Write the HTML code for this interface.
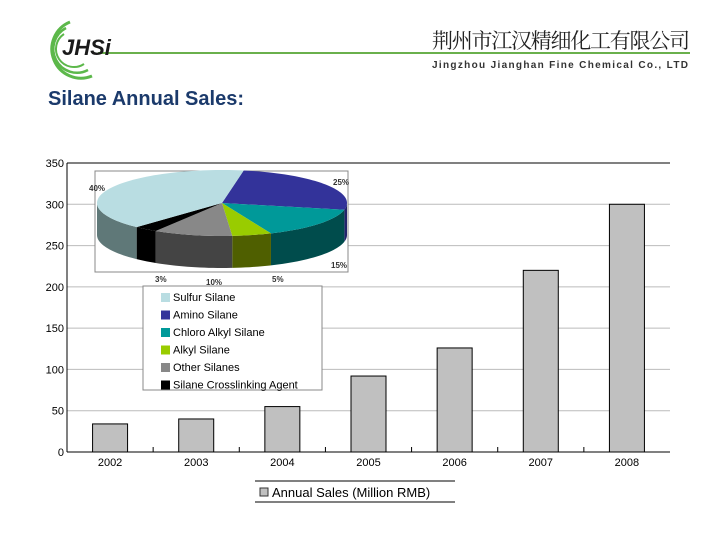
<!DOCTYPE html>
<html><head><meta charset="utf-8"><style>
body{margin:0;background:#fff;width:720px;height:540px;overflow:hidden;position:relative;font-family:"Liberation Sans",sans-serif}
.a{position:absolute;white-space:nowrap}
</style></head><body>
<svg class="a" style="left:0;top:0" width="720" height="90">
<g fill="none" stroke="#5cb84a" stroke-width="3">
<path d="M70 22 A28 28 0 1 0 92 76"/><path d="M66 28 A22 22 0 1 0 88 70" stroke-width="2.5"/><path d="M64 34 A16 16 0 1 0 84 64" stroke-width="2"/>
</g>
<line x1="98" y1="53" x2="690" y2="53" stroke="#6ab04c" stroke-width="2"/>
<text x="62" y="55" font-size="22" font-weight="bold" font-style="italic" fill="#1a1a1a" font-family="Liberation Sans">JHSi</text>
<text x="432" y="48" font-size="21" fill="#222" font-family="Noto Serif CJK SC,serif" textLength="258">荆州市江汉精细化工有限公司</text>
<text x="432" y="68" font-size="10" font-weight="bold" fill="#333" textLength="256">Jingzhou Jianghan Fine Chemical Co., LTD</text>
</svg>
<div class="a" style="left:48px;top:88px;font-size:20px;font-weight:bold;color:#1b3a6b">Silane Annual Sales:</div>
<svg id="ch" class="a" style="left:0;top:0" width="720" height="540"></svg>
<script>
const categories=["2002","2003","2004","2005","2006","2007","2008"];
const sales=[34,40,55,92,126,220,300];
const yTicks=[0,50,100,150,200,250,300,350];
const pieLabels=["Amino Silane","Chloro Alkyl Silane","Alkyl Silane","Other Silanes","Silane Crosslinking Agent","Sulfur Silane"];
const pieValues=[25,15,5,10,3,40];
const NS="http://www.w3.org/2000/svg",s=document.getElementById('ch');
function el(t,a,p){const e=document.createElementNS(NS,t);for(const k in a)e.setAttribute(k,a[k]);(p||s).appendChild(e);return e}
const X0=67,X1=670,Y0=452,Y1=163,bw=(X1-X0)/categories.length;
const y=v=>Y0-(v/350)*(Y0-Y1), xc=i=>X0+bw*(i+0.5);
yTicks.forEach(t=>{
 if(t>0){const g=el('line',{x1:X0,x2:X1,y1:y(t),y2:y(t),stroke:t==350?'#000':'#bbb'});
 }
 const l=el('text',{x:X0-3,y:y(t)+4,'text-anchor':'end','font-size':11,fill:'#000'});l.textContent=t;
 
});
categories.forEach((c,i)=>{
 const r=el('rect',{x:xc(i)-17.5,y:y(sales[i]),width:35,height:Y0-y(sales[i]),fill:'#c0c0c0',stroke:'#000','stroke-width':1});
 
 const t=el('text',{x:xc(i),y:466,'text-anchor':'middle','font-size':11});t.textContent=c;
 
 if(i>0)el('line',{x1:X0+bw*i,x2:X0+bw*i,y1:Y0,y2:Y0-5,stroke:'#000'});
});
el('line',{x1:X0,x2:X0,y1:Y1,y2:Y0,stroke:'#000'});
el('line',{x1:X0,x2:X1,y1:Y0,y2:Y0,stroke:'#000'});
// pie
const pb=el('rect',{x:95,y:171,width:253,height:101,fill:'#fff',stroke:'#888'});

const cx=222,cy=203,rx=125,ry=33,D=32;
const tops=['#33339a','#009999','#99cc00','#888888','#000000','#b9dde2'],sides=['#22226a','#004c4c','#4f5f00','#444444','#000000','#5f7878'];
const tot=pieValues.reduce((a,b)=>a+b,0);let st=10;const segs=[];
pieValues.forEach((v,i)=>{const en=st+v/tot*360;segs.push([st,en]);st=en});
const P=(t,dy)=>[cx+rx*Math.sin(t*Math.PI/180),cy-ry*Math.cos(t*Math.PI/180)+(dy||0)];
// sides
segs.forEach(([a,b],i)=>{
 const lo=Math.max(a%360<a?a:a,90),hi=Math.min(b,270);
 let ranges=[[Math.max(a,90),Math.min(b,270)],[Math.max(a,450),Math.min(b,630)]];
 ranges.forEach(([p,q])=>{if(q<=p)return;let d='M'+P(p);for(let t=p;t<=q;t+=2)d+='L'+P(t);d+='L'+P(q);for(let t=q;t>=p;t-=2)d+='L'+P(t,D);d+='L'+P(p,D)+'Z';
  const e=el('path',{d,fill:sides[i]});});
});
segs.forEach(([a,b],i)=>{let d='M'+cx+','+cy;for(let t=a;t<b;t+=2)d+='L'+P(t);d+='L'+P(b)+'Z';
 const e=el('path',{d,fill:tops[i]});});
[["40%",89,191],["25%",333,185],["15%",331,268],["3%",155,282],["10%",206,285],["5%",272,282]].forEach(([t,x,yy])=>{const e=el('text',{x,y:yy,'font-size':8,'font-weight':'bold',fill:'#333'});e.textContent=t;
 });
const lg=el('rect',{x:143,y:286,width:179,height:104,fill:'#fff',stroke:'#888'});

[5,0,1,2,3,4].forEach((k,j)=>{const yy=291+j*17.5;
 el('rect',{x:161,y:yy+2,width:9,height:9,fill:tops[k]});
 const t=el('text',{x:173,y:yy+10,'font-size':11,fill:'#000'});t.textContent=pieLabels[k];
 });
// bottom legend
el('line',{x1:255,x2:455,y1:481,y2:481,stroke:'#000'});el('line',{x1:255,x2:455,y1:502,y2:502,stroke:'#000'});
el('rect',{x:260,y:488,width:8,height:8,fill:'#c0c0c0',stroke:'#333'});
const lt=el('text',{x:272,y:497,'font-size':13});lt.textContent='Annual Sales (Million RMB)';

</script>
</body></html>
